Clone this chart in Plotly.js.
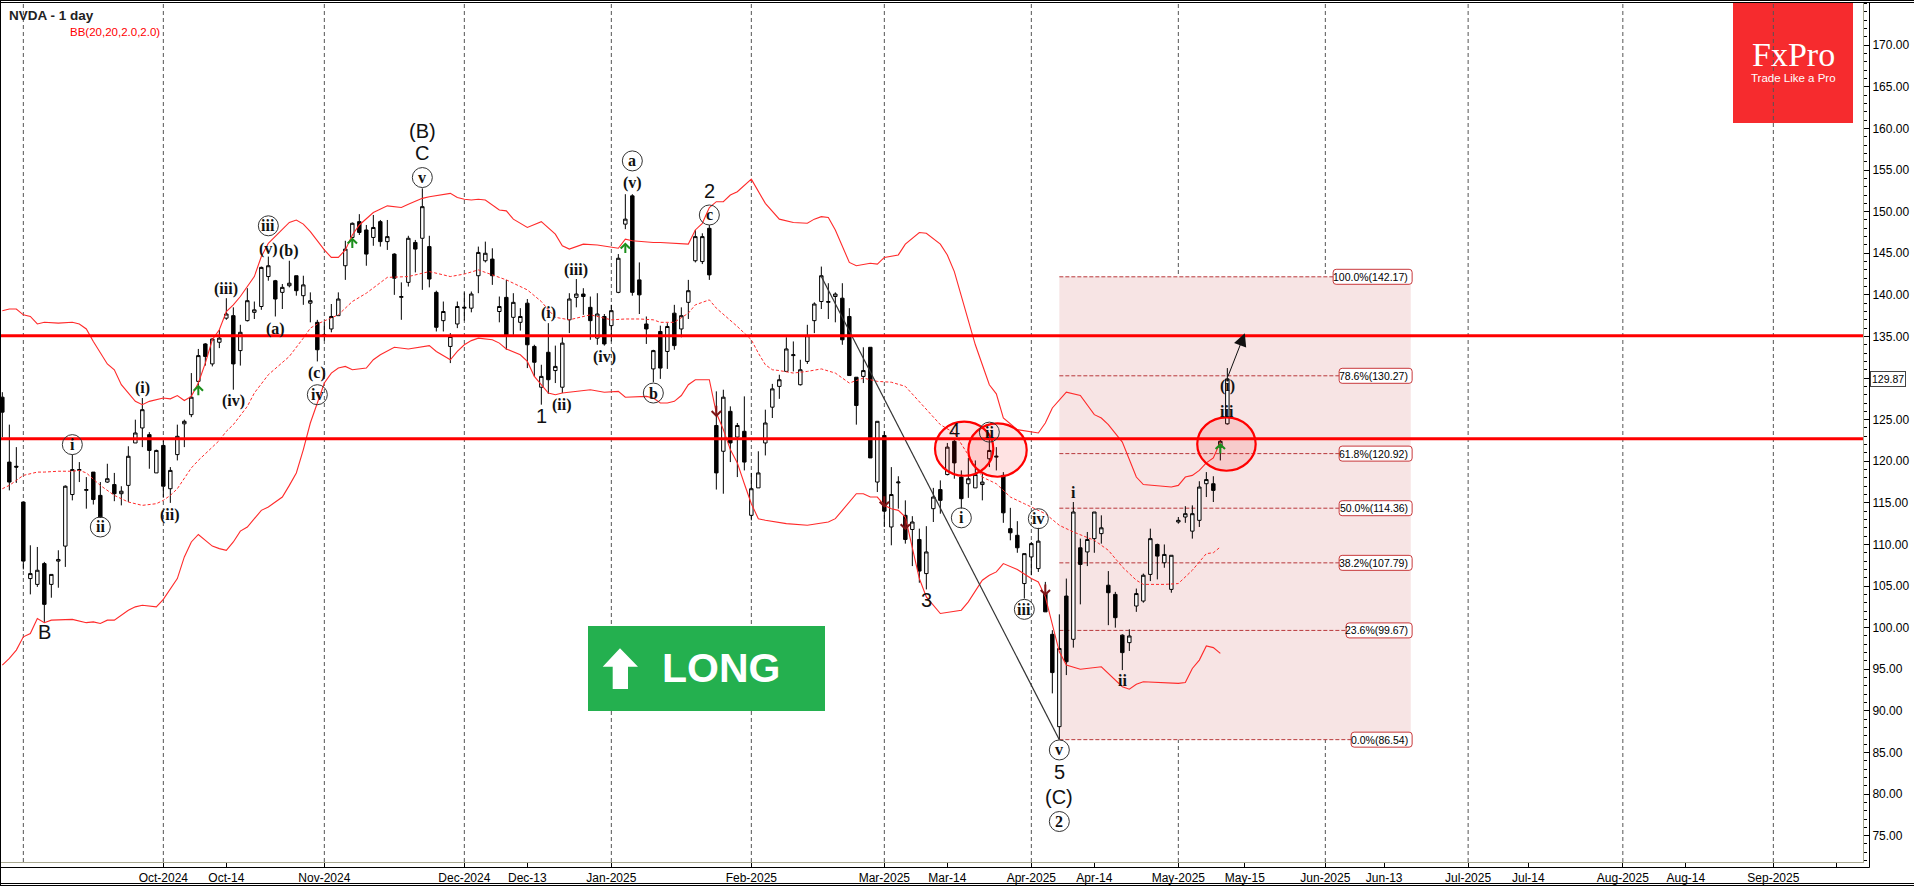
<!DOCTYPE html>
<html>
<head>
<meta charset="utf-8">
<script src="https://cdn.plot.ly/plotly-3.0.1.min.js"></script>
<style>html,body{margin:0;padding:0;background:#fff;overflow:hidden}#chart{width:1914px;height:886px}</style>
</head>
<body>
<div id="chart"></div>
<script>
// Daily candles, one entry per trading session (index 0..175)
const opens=[127.7,119.9,119.4,115.1,105.9,105.2,107.7,105.2,108.0,109.8,116.0,118.9,116.5,118.7,115.9,117.5,117.2,116.1,117.1,122.2,124.0,123.2,118.6,121.9,116.7,120.8,124.5,125.6,129.6,134.1,131.7,134.3,137.2,137.5,133.3,136.9,137.9,138.6,142.2,141.7,140.3,141.1,142.3,139.9,139.0,136.7,135.1,135.9,137.5,143.5,146.9,148.8,147.8,146.9,148.8,146.4,144.9,139.7,141.5,146.3,146.8,145.8,140.3,136.9,133.8,136.5,138.4,138.4,142.3,144.1,144.3,138.0,139.7,137.3,136.7,139.0,133.8,128.9,133.1,130.9,128.9,137.0,139.7,140.1,138.5,134.8,137.4,136.3,140.3,148.5,151.9,141.8,136.5,131.1,135.6,133.2,137.8,135.9,139.1,144.1,144.0,148.0,124.3,121.2,126.0,122.9,123.6,113.5,116.8,122.2,126.5,129.0,130.8,132.7,129.2,132.0,136.9,139.2,139.1,139.8,139.6,137.4,130.1,130.2,133.7,117.5,123.1,112.1,117.4,113.5,111.8,110.6,106.5,114.3,116.6,118.4,122.4,118.1,117.3,116.8,117.2,120.3,120.5,118.3,111.9,111.1,105.3,108.5,107.1,104.1,99.2,88.1,103.8,98.6,109.6,109.1,110.7,111.3,105.1,104.0,99.1,98.2,102.6,103.2,106.4,110.0,107.8,104.6,112.7,113.3,111.6,112.9,117.3,117.3,121.7,124.5];
const highs=[128.3,124.4,121.7,115.1,109.9,109.7,107.9,106.4,109.3,117.1,120.8,119.9,118.1,118.7,117.5,119.7,118.6,117.0,121.8,125.0,127.6,123.5,121.4,122.5,119.3,124.4,125.0,130.6,133.5,134.2,134.8,135.8,139.6,138.5,136.4,140.8,139.2,143.4,144.6,141.8,141.3,144.1,142.3,142.3,140.3,137.0,136.7,138.9,140.3,146.5,148.7,149.7,148.4,149.6,149.0,149.0,145.0,141.5,147.1,146.6,152.8,147.1,140.5,139.2,135.4,139.2,140.3,140.4,145.8,146.4,145.6,139.8,141.8,140.2,138.4,139.5,134.0,131.6,136.6,133.9,134.9,140.2,141.9,140.8,139.8,140.2,137.7,138.8,144.9,152.1,152.1,143.9,137.4,133.4,136.3,136.6,138.8,138.5,141.8,147.8,147.4,148.4,128.4,128.6,126.6,124.6,127.8,118.6,121.2,126.2,129.3,130.4,134.9,134.4,132.2,136.4,139.1,143.4,141.4,140.3,141.4,138.4,130.1,133.7,133.7,124.8,123.6,119.3,118.2,115.3,113.4,111.9,112.2,116.8,117.7,122.2,122.6,118.9,120.4,120.1,118.7,122.6,121.7,118.7,114.4,112.8,108.9,110.3,112.0,105.5,99.7,101.6,105.9,115.1,110.7,111.5,113.9,113.5,106.8,104.3,99.2,99.8,104.7,106.5,111.9,110.1,110.0,108.7,113.3,114.6,114.7,117.6,118.7,118.2,122.6,131.2];
const lows=[122.9,116.5,117.4,107.0,104.0,104.9,100.7,103.6,104.8,107.3,115.3,117.5,114.3,114.8,113.2,117.4,115.2,114.7,115.1,122.2,121.7,119.1,118.6,115.7,115.0,120.1,121.7,125.3,128.6,131.5,131.4,133.6,137.0,128.6,131.5,136.8,137.1,138.2,141.7,137.4,138.3,140.9,139.9,138.8,136.7,132.0,134.5,135.5,137.5,141.8,145.9,147.2,143.5,145.9,145.8,145.4,140.0,137.0,141.0,142.7,140.6,140.9,135.6,135.6,131.8,136.0,136.9,137.9,140.2,143.9,141.2,136.7,133.4,135.2,135.7,131.2,130.2,126.8,128.1,129.4,128.2,135.4,138.5,137.6,134.6,134.0,133.9,134.4,140.2,147.9,139.9,137.7,134.1,129.5,129.9,131.1,133.4,134.9,137.1,143.9,143.7,141.8,116.6,116.1,119.9,118.1,118.9,112.9,116.8,120.7,125.2,127.5,130.8,130.8,129.1,131.7,135.4,138.3,137.1,136.7,134.0,130.3,124.4,129.4,120.4,116.3,112.1,109.9,114.3,110.1,107.4,105.4,104.6,112.7,113.7,118.3,117.9,114.3,115.6,116.8,115.3,119.3,118.9,112.6,110.5,109.0,103.5,106.3,106.7,101.9,92.1,86.6,94.3,97.6,102.8,107.4,109.0,110.1,100.3,100.0,94.9,97.2,101.9,103.0,105.6,105.8,107.2,104.2,112.5,112.6,110.7,112.1,115.7,115.1,120.1,124.4];
const closes=[125.9,117.5,119.3,108.0,106.5,106.9,102.8,106.4,108.2,117.0,119.0,119.0,116.6,115.4,113.3,117.9,116.1,116.4,120.6,123.4,126.2,121.3,121.3,117.0,118.9,123.0,124.8,127.7,132.7,132.6,134.7,134.8,137.7,131.7,135.5,139.3,138.2,143.3,143.5,139.5,140.9,141.4,140.5,141.2,139.3,133.4,135.2,137.4,139.5,145.5,148.6,147.5,144.9,148.1,146.4,147.0,142.0,139.8,146.8,145.5,150.6,141.9,136.1,138.0,135.0,138.6,138.5,140.1,145.1,145.0,142.3,138.6,135.2,139.1,137.4,134.0,131.9,130.2,129.8,131.4,134.2,139.5,140.1,139.8,136.9,137.7,134.1,138.1,144.4,149.1,140.3,140.0,135.9,133.3,131.2,136.2,133.9,137.5,140.5,147.0,147.0,142.4,118.6,127.7,122.2,124.3,119.9,116.7,118.6,124.6,128.7,129.8,133.5,132.8,131.0,135.1,138.9,142.3,139.2,140.1,134.6,130.3,126.7,130.9,120.4,124.8,114.0,116.0,117.5,110.6,112.7,106.8,109.1,115.7,115.3,121.7,119.8,115.5,117.9,118.4,117.5,121.3,120.6,113.8,111.4,109.6,108.9,110.1,110.4,101.9,94.6,97.5,95.9,113.9,107.6,110.6,113.9,112.0,104.2,101.2,97.0,99.0,104.1,106.3,110.7,108.6,108.8,108.7,112.9,113.7,113.7,116.9,117.8,116.5,122.4,129.9];

// Bollinger band vertices: session index and price
const upperIdx=[0,1,2,3,4,5,6,8,10,11,12,13,15,16,17,19,20,21,23,24,25,26,27,28,29,30,31,32,33,34,36,37,38,39,41,42,43,44,46,47,48,49,50,51,53,55,57,58,60,61,64,65,66,67,68,69,71,72,73,75,77,79,80,81,83,85,88,89,90,93,94,98,99,100,101,102,103,104,105,107,109,111,113,115,116,117,118,119,120,121,122,124,125,126,128,129,131,132,134,135,136,137,138,139,140,141,142,143,145,147,148,149,150,152,154,156,157,158,160,162,163,167,168,169,170,171,172,173,174];
const upperVal=[138.1,138.3,138.3,137.6,137.4,136.5,136.7,136.6,136.7,136.5,135.9,134.4,131.7,131.0,129.2,127.2,126.8,127.2,127.6,127.5,127.9,127.3,127.8,129.4,131.8,134.6,135.8,138.0,138.8,139.8,142.2,144.6,146.2,147.0,148.7,149.0,148.5,147.6,145.4,144.5,144.5,145.4,147.2,148.4,149.9,150.7,150.5,150.9,151.6,151.8,152.2,151.7,151.5,151.4,151.5,151.4,150.2,150.1,149.1,148.1,148.8,147.3,145.9,145.5,146.1,146.0,145.6,146.7,146.5,146.3,146.3,146.1,147.8,148.6,150.5,151.2,151.2,152.0,152.4,153.9,151.0,149.1,148.7,148.6,149.1,149.4,149.3,147.8,145.8,143.9,143.5,143.8,143.7,144.5,144.8,146.1,147.5,147.4,146.1,144.8,142.8,139.9,137.0,134.0,131.6,129.2,128.1,125.2,123.8,123.5,123.4,124.6,126.4,128.3,127.9,125.6,125.2,124.4,122.3,118.1,117.2,116.9,117.1,118.1,118.3,118.9,119.8,120.4,122.3];
const midIdx=[0,1,2,3,5,6,8,10,11,12,14,16,18,20,22,23,24,25,27,28,30,31,32,33,35,36,38,41,43,44,45,48,50,52,55,58,61,64,66,68,70,72,75,77,78,79,81,84,87,89,91,93,94,96,98,99,101,102,105,107,108,109,110,111,113,115,117,119,121,123,125,127,129,131,134,136,140,142,144,146,149,151,153,156,158,160,162,163,166,168,170,172,173,174];
const midVal=[116.7,117.1,117.7,118.3,118.7,118.7,118.8,118.8,118.9,118.6,117.1,115.9,115.1,114.7,114.9,115.3,115.9,116.7,119.2,120.1,121.7,122.5,123.6,124.4,126.6,128.2,130.4,132.6,134.8,136.0,136.5,137.6,139.2,140.2,142.1,142.2,142.8,142.2,142.5,143.0,142.4,141.8,140.6,139.2,138.2,137.3,137.0,137.6,137.0,137.1,137.1,137.0,136.7,136.7,137.8,138.8,139.4,138.4,136.2,134.6,133.0,131.6,131.0,130.9,130.6,130.8,131.1,130.6,129.4,130.0,129.6,129.5,129.0,127.2,124.4,123.4,118.1,117.3,115.7,114.9,113.7,112.3,111.5,110.5,109.3,107.3,105.7,105.2,105.2,105.3,106.9,108.9,109.0,109.7];
const lowerIdx=[0,1,2,3,4,5,6,7,10,12,13,14,15,16,18,19,20,22,23,25,26,27,28,30,31,32,33,34,35,37,38,40,41,42,43,44,45,46,47,48,49,50,52,53,54,56,58,61,62,64,65,66,67,68,70,71,72,74,75,76,78,79,80,84,86,88,89,92,93,94,95,96,97,98,99,101,102,103,104,105,106,107,108,109,112,115,118,119,120,122,123,124,125,126,127,128,129,130,131,132,134,137,138,140,141,142,143,145,147,148,149,151,152,154,157,160,161,162,163,168,169,170,171,172,173,174];
const lowerVal=[95.5,96.3,97.3,98.9,99.3,101.1,100.6,100.9,101.0,100.6,100.7,100.5,100.9,100.9,102.1,102.5,102.7,102.5,103.4,105.9,108.5,110.3,111.2,109.8,109.5,109.3,110.3,111.6,112.1,114.1,114.5,115.7,117.1,118.6,121.4,124.6,127.0,129.4,130.6,131.2,131.4,131.0,131.2,132.2,132.8,133.7,133.5,133.9,133.2,132.2,133.2,134.0,134.5,134.8,134.6,134.2,133.5,132.8,132.0,130.2,128.2,128.0,128.2,128.6,128.3,128.4,127.7,127.8,127.6,127.0,127.0,127.2,127.9,129.2,129.8,129.8,125.8,123.8,121.4,119.8,117.3,114.9,113.1,112.9,112.5,112.3,112.7,113.1,114.1,116.1,116.1,115.7,115.7,114.7,114.3,114.1,113.3,109.7,105.9,103.7,101.7,102.1,103.1,105.7,106.3,106.7,107.7,107.0,105.9,105.5,103.7,97.1,95.5,95.0,95.3,92.9,92.6,93.2,93.5,93.3,93.4,95.1,96.1,97.8,97.6,96.9];

// Axis labels
const tickIdx=[23,32,46,66,75,87,107,126,135,147,156,168,177.5,189,197.4,209.4,218,231.5,240.5,253,262];
const tickLabels=['Oct-2024','Oct-14','Nov-2024','Dec-2024','Dec-13','Jan-2025','Feb-2025','Mar-2025','Mar-14','Apr-2025','Apr-14','May-2025','May-15','Jun-2025','Jun-13','Jul-2025','Jul-14','Aug-2025','Aug-14','Sep-2025',''];
const gridIdx=[3,23,46,66,87,107,126,147,168,189,209.4,231.5,253];
const priceTicks=[75,80,85,90,95,100,105,110,115,120,125,130,135,140,145,150,155,160,165,170];
const priceTickLabels=['75.00','80.00','85.00','90.00','95.00','100.00','105.00','110.00','115.00','120.00','125.00','','135.00','140.00','145.00','150.00','155.00','160.00','165.00','170.00'];

// Fibonacci retracement levels and levels of interest
const fibPct=['100.0%','78.6%','61.8%','50.0%','38.2%','23.6%','0.0%'];
const fibVal=[142.17,130.27,120.92,114.36,107.79,99.67,86.54];
const fibStartIdx=151, fibEndIdx=201.2;
const keyLevels=[135.1,122.7];
const lastPrice=129.87;

// Elliott wave labels: session index, price, text
const circledIdx=[10,14,38,45,60,90,101,93,141,137,148,146,151,151];
const circledVal=[122.0,112.1,148.3,128.0,154.1,156.1,149.6,128.2,123.5,113.2,113.1,102.2,85.3,76.7];
const circledTxt=['i','ii','iii','iv','v','a','c','b','ii','i','iv','iii','v','2'];
const serifIdx=[20,24,32,33,38,41,39,45,90,82,78,86,80,153,160,175,175];
const serifVal=[128.8,113.6,140.7,127.2,145.5,145.3,135.9,130.6,153.4,143.0,137.8,132.5,126.8,116.2,93.7,126.0,129.05];
const serifTxt=['(i)','(ii)','(iii)','(iv)','(v)','(b)','(a)','(c)','(v)','(iii)','(i)','(iv)','(ii)','i','ii','iii','(i)'];
const sansIdx=[6,60,60,101,77,136,132,151,151];
const sansVal=[99.5,159.7,157.0,152.5,125.4,123.8,103.3,82.6,79.65];
const sansTxt=['B','(B)','C','2','1','4','3','5','(C)'];

// Signal arrows
const upArrowIdx=[28,50,89,174], upArrowVal=[129.2,146.9,146.3,122.2];
const downArrowIdx=[102,126,129,149], downArrowVal=[125.3,114.4,111.7,103.8];

const L=1,T=3,PW=1862,PH=859;
const px=x=>(x-L)/PW, py=y=>1-(y-T)/PH;
const SANS='"Liberation Sans",Arial,sans-serif', SERIF='"Liberation Serif","Times New Roman",serif';
const idx=opens.map((_,i)=>i);

const traces=[
 {type:'candlestick',x:idx,open:opens,high:highs,low:lows,close:closes,hoverinfo:'skip',whiskerwidth:0,
  increasing:{line:{color:'#000',width:1},fillcolor:'#fff'},decreasing:{line:{color:'#000',width:1},fillcolor:'#000'}},
 {type:'scatter',mode:'lines',x:upperIdx,y:upperVal,line:{color:'#ff2a2a',width:1.1},hoverinfo:'skip'},
 {type:'scatter',mode:'lines',x:midIdx,y:midVal,line:{color:'#ff2a2a',width:1,dash:'3px,2px'},hoverinfo:'skip'},
 {type:'scatter',mode:'lines',x:lowerIdx,y:lowerVal,line:{color:'#ff2a2a',width:1.1},hoverinfo:'skip'}
];

const shapes=[];
shapes.push({type:'rect',layer:'below',xref:'paper',yref:'paper',x0:px(1733),x1:px(1853),y0:py(123),y1:py(3),fillcolor:'#f62b2e',line:{width:0}});
shapes.push({type:'rect',layer:'below',xref:'x',yref:'y',x0:fibStartIdx,x1:fibEndIdx,y0:fibVal[6],y1:fibVal[0],fillcolor:'#f7e4e4',line:{width:0}});
gridIdx.forEach(k=>shapes.push({type:'line',layer:'below',xref:'x',yref:'paper',x0:k,x1:k,y0:0,y1:1,line:{color:'#555',width:1,dash:'4px,3px'}}));
fibVal.forEach(v=>shapes.push({type:'line',layer:'below',xref:'x',yref:'y',x0:fibStartIdx,x1:fibEndIdx-2,y0:v,y1:v,line:{color:'#b8383b',width:1,dash:'4px,2px'}}));
shapes.push({type:'line',xref:'x',yref:'y',x0:117,y0:142.2,x1:151,y1:86.54,line:{color:'#333',width:1.2}});
keyLevels.forEach(v=>shapes.push({type:'line',xref:'paper',yref:'y',x0:0,x1:1,y0:v,y1:v,line:{color:'#ff0000',width:3}}));
[[133.24,141.57,118.26,124.76],[138.0,146.34,118.14,124.56],[170.7,179.05,118.86,125.28]].forEach(e=>shapes.push({type:'circle',xref:'x',yref:'y',x0:e[0],x1:e[1],y0:e[2],y1:e[3],fillcolor:'rgba(255,0,0,0.11)',line:{color:'#ff0000',width:2.2}}));
circledIdx.forEach((k,i)=>shapes.push({type:'circle',xref:'x',yref:'y',xsizemode:'pixel',ysizemode:'pixel',xanchor:k,yanchor:circledVal[i],x0:-10,x1:10,y0:-10,y1:10,line:{color:'#333',width:1}}));
const fibTagW=[79,73,73,73,73,66,61];
fibVal.forEach((v,i)=>{const w=fibTagW[i];shapes.push({type:'path',xref:'x',yref:'y',xsizemode:'pixel',ysizemode:'pixel',xanchor:fibEndIdx+0.2,yanchor:v,
  path:`M ${-w+3} -7.5 L -3 -7.5 Q 0 -7.5 0 -4.5 L 0 4.5 Q 0 7.5 -3 7.5 L ${-w+3} 7.5 Q ${-w} 7.5 ${-w} 4.5 L ${-w} -4.5 Q ${-w} -7.5 ${-w+3} -7.5 Z`,
  fillcolor:'#fff',line:{color:'#c8393c',width:1}});});
shapes.push({type:'rect',xref:'paper',yref:'paper',x0:px(588),x1:px(825),y0:py(711),y1:py(626),fillcolor:'#24b04f',line:{width:0}});
shapes.push({type:'path',xref:'paper',yref:'paper',path:`M ${px(620)} ${py(648.3)} L ${px(638)} ${py(666.7)} L ${px(628)} ${py(666.7)} L ${px(628)} ${py(689)} L ${px(612.7)} ${py(689)} L ${px(612.7)} ${py(666.7)} L ${px(602.7)} ${py(666.7)} Z`,fillcolor:'#fff',line:{width:0}});
const frame=(x0,y0,x1,y1)=>shapes.push({type:'line',xref:'paper',yref:'paper',x0:px(x0),x1:px(x1),y0:py(y0),y1:py(y1),line:{color:'#000',width:1}});
frame(0,0.5,1914,0.5);frame(0,2.5,1914,2.5);frame(0.5,0,0.5,886);frame(1869.5,3,1869.5,867.5);frame(0,867.5,1869.5,867.5);frame(0,883.5,1914,883.5);frame(0,885.5,1914,885.5);

const anns=[];
const txt=(x,y,text,size,family,color)=>anns.push({x,y,text,xref:'x',yref:'y',showarrow:false,xanchor:'center',yanchor:'middle',font:{size,family,color},borderpad:0});
circledIdx.forEach((k,i)=>txt(k,circledVal[i],'<b>'+circledTxt[i]+'</b>',16,SERIF,'#111'));
serifIdx.forEach((k,i)=>txt(k,serifVal[i],'<b>'+serifTxt[i]+'</b>',16,SERIF,'#111'));
sansIdx.forEach((k,i)=>txt(k,sansVal[i],sansTxt[i],20,SANS,'#111'));
fibVal.forEach((v,i)=>anns.push({x:fibEndIdx+0.2,y:v,xref:'x',yref:'y',xanchor:'right',yanchor:'middle',xshift:-2,showarrow:false,text:fibPct[i]+'('+v.toFixed(2)+')',font:{size:10.5,family:SANS,color:'#000'}}));
upArrowIdx.forEach((k,i)=>anns.push({x:k,y:upArrowVal[i],xref:'x',yref:'y',ax:0,ay:12,axref:'pixel',ayref:'pixel',text:'',showarrow:true,arrowhead:4,arrowsize:0.9,arrowwidth:2,arrowcolor:'#1b8f1b',standoff:0}));
downArrowIdx.forEach((k,i)=>anns.push({x:k,y:downArrowVal[i],xref:'x',yref:'y',ax:0,ay:-13,axref:'pixel',ayref:'pixel',text:'',showarrow:true,arrowhead:4,arrowsize:0.9,arrowwidth:2,arrowcolor:'#7d1416',standoff:0}));
anns.push({x:177.5,y:135.4,xref:'x',yref:'y',ax:175,ay:130.0,axref:'x',ayref:'y',text:'',showarrow:true,arrowhead:2,arrowsize:2.6,arrowwidth:1,arrowcolor:'#111',standoff:0});
const pt=(x,y,text,size,family,color,weight,anchor)=>anns.push({x:px(x),y:py(y),xref:'paper',yref:'paper',xanchor:anchor||'center',yanchor:'middle',showarrow:false,text:weight?'<b>'+text+'</b>':text,font:{size,family,color}});
pt(7,15,'NVDA - 1 day',13.5,SANS,'#222',true,'left');
pt(68,32,'BB(20,20,2.0,2.0)',11.5,SANS,'#ff0000',false,'left');
pt(721,668,'LONG',41,SANS,'#fff',true);
pt(1793,55,'FxPro',34,SERIF,'#fff',false);
pt(1793,78,'Trade Like a Pro',11.5,SANS,'#fff',false);
anns.push({x:px(1870),y:lastPrice,xref:'paper',yref:'y',xanchor:'left',yanchor:'middle',showarrow:false,text:lastPrice.toFixed(2),bgcolor:'#fff',bordercolor:'#444',borderwidth:1,borderpad:1,font:{size:10.5,family:SANS,color:'#000'}});

const layout={
 width:1914,height:886,margin:{l:L,r:1914-L-PW,t:T,b:886-T-PH,pad:0},
 paper_bgcolor:'#fff',plot_bgcolor:'rgba(0,0,0,0)',showlegend:false,
 xaxis:{type:'linear',range:[(L-2.33)/7,(L+PW-2.33)/7],tickmode:'array',tickvals:tickIdx,ticktext:tickLabels,ticks:'outside',ticklen:5,tickwidth:1,tickcolor:'#000',
   showgrid:false,zeroline:false,showline:true,linecolor:'#a8a890',linewidth:1,rangeslider:{visible:false},tickfont:{size:12,family:SANS,color:'#000'},tickangle:0,fixedrange:true},
 yaxis:{side:'right',range:[175.44-(T+PH)/8.32,175.44-T/8.32],tickmode:'array',tickvals:priceTicks,ticktext:priceTickLabels,ticks:'outside',ticklen:6,tickwidth:1,tickcolor:'#000',
   minor:{tickmode:'linear',tick0:0,dtick:1,ticks:'outside',ticklen:3,tickcolor:'#000',showgrid:false},
   showgrid:false,zeroline:false,showline:true,linecolor:'#a8a890',linewidth:1,tickfont:{size:12,family:SANS,color:'#000'},fixedrange:true},
 shapes,annotations:anns
};
Plotly.newPlot('chart',traces,layout,{displayModeBar:false,staticPlot:true});
</script>
</body>
</html>
